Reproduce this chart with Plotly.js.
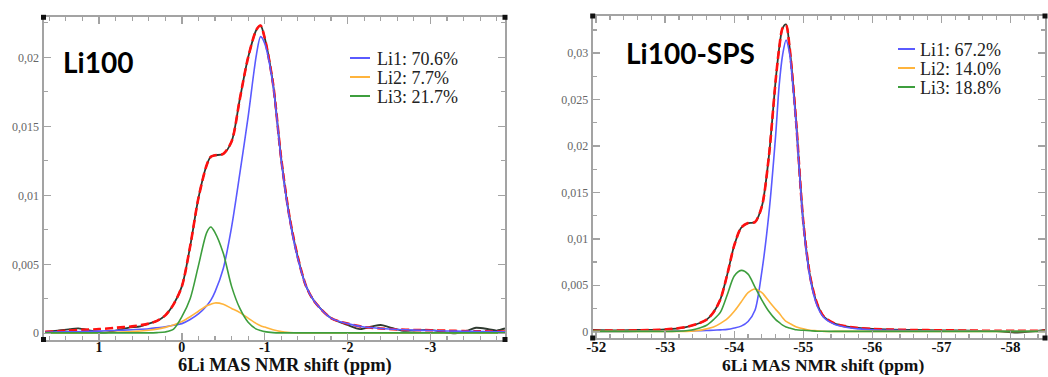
<!DOCTYPE html>
<html>
<head>
<meta charset="utf-8">
<script src="https://cdn.plot.ly/plotly-3.0.1.min.js"></script>
<style>html,body{margin:0;padding:0;background:#fff;}#chart{width:1048px;height:377px;}</style>
</head>
<body>
<div id="chart"></div>
<script>
// ---------------- Li100 (left panel) ----------------
const li100_x = [1.65, 1.4, 1.2, 1.0, 0.8, 0.6, 0.4, 0.3, 0.2, 0.1, 0.0, -0.1, -0.2, -0.3, -0.35, -0.4, -0.5, -0.6, -0.7, -0.8, -0.9, -0.95, -1.0, -1.1, -1.2, -1.3, -1.4, -1.5, -1.6, -1.8, -2.0, -2.2, -2.4, -2.6, -2.8, -3.0, -3.2, -3.4, -3.6, -3.9];
const li100_fit = [0.0001, 0.00018, 0.00025, 0.0003, 0.0004, 0.0005, 0.0007, 0.0009, 0.0013, 0.0021, 0.0034, 0.0063, 0.0098, 0.0122, 0.0128, 0.0129, 0.0130, 0.0139, 0.0170, 0.0200, 0.0220, 0.0223, 0.0214, 0.0181, 0.0126, 0.0084, 0.0055, 0.0034, 0.0023, 0.0011, 0.0007, 0.00045, 0.00035, 0.00028, 0.00024, 0.00022, 0.00019, 0.00016, 0.00014, 0.00012];
const li100_li1 = [0.00008, 0.0001, 0.00013, 0.00016, 0.0002, 0.00026, 0.00033, 0.0004, 0.00048, 0.00058, 0.0007, 0.0010, 0.0014, 0.0020, 0.0024, 0.0030, 0.0047, 0.0077, 0.0116, 0.0157, 0.0202, 0.0215, 0.0210, 0.0180, 0.0125, 0.0083, 0.0054, 0.0034, 0.0023, 0.0011, 0.0007, 0.00045, 0.00035, 0.00028, 0.00023, 0.0002, 0.00017, 0.00015, 0.00013, 0.00011];
const li100_li2 = [0.00002, 0.00003, 0.00003, 0.00004, 0.00007, 0.00012, 0.00022, 0.0003, 0.00043, 0.0006, 0.00085, 0.0012, 0.0016, 0.0020, 0.0021, 0.0022, 0.0021, 0.0018, 0.0015, 0.0011, 0.0007, 0.00055, 0.00045, 0.00025, 0.00012, 0.00006, 0.00003, 0.00003, 0.00003, 0.00003, 0.00003, 0.00003, 0.00003, 0.00003, 0.00003, 0.00003, 0.00003, 0.00003, 0.00003, 0.00003];
const li100_li3 = [0.00003, 0.00003, 0.00003, 0.00003, 0.00003, 0.00003, 0.00003, 0.00005, 0.0001, 0.0003, 0.0012, 0.0025, 0.0049, 0.0073, 0.0077, 0.0073, 0.0058, 0.0034, 0.0018, 0.0008, 0.0003, 0.0002, 0.00012, 0.00005, 0.00003, 0.00003, 0.00003, 0.00003, 0.00003, 0.00003, 0.00003, 0.00003, 0.00003, 0.00003, 0.00003, 0.00003, 0.00003, 0.00003, 0.00003, 0.00003];
const li100_exp_x = [1.65, 1.5, 1.35, 1.25, 1.1, 0.95, 0.8, 0.65, 0.5, 0.4, 0.3, 0.2, 0.1, 0.0, -0.1, -0.2, -0.3, -0.35, -0.4, -0.5, -0.6, -0.7, -0.8, -0.9, -0.95, -1.0, -1.1, -1.2, -1.3, -1.4, -1.5, -1.6, -1.8, -2.0, -2.15, -2.3, -2.4, -2.5, -2.65, -2.8, -3.0, -3.15, -3.3, -3.45, -3.55, -3.7, -3.8, -3.9];
const li100_exp = [0.0001, 0.0002, 0.0003, 0.00035, 0.0002, 0.00005, 0.0002, 0.0004, 0.0005, 0.0007, 0.0009, 0.0013, 0.0021, 0.0034, 0.0063, 0.0098, 0.0122, 0.0128, 0.0129, 0.0130, 0.0139, 0.0170, 0.0200, 0.0220, 0.0223, 0.0214, 0.0181, 0.0126, 0.0084, 0.0055, 0.0034, 0.0023, 0.0011, 0.0006, 0.0003, 0.0005, 0.0006, 0.00045, 0.0002, 0.0002, 0.00025, 0.0001, 0.0000, 0.0002, 0.0004, 0.0003, 0.0002, 0.00035];
const li100_labels = ["Li1: 70.6%", "Li2: 7.7%", "Li3: 21.7%"];

// ---------------- Li100-SPS (right panel) ----------------
const sps_x = [-51.95, -52.3, -52.6, -52.9, -53.1, -53.3, -53.45, -53.6, -53.7, -53.8, -53.9, -54.0, -54.1, -54.2, -54.3, -54.4, -54.5, -54.6, -54.65, -54.7, -54.75, -54.8, -54.85, -54.9, -55.0, -55.1, -55.2, -55.3, -55.45, -55.6, -55.8, -56.0, -56.3, -56.6, -57.0, -57.4, -57.8, -58.1, -58.5];
const sps_fit = [0.0001, 0.00012, 0.00015, 0.0002, 0.0003, 0.0005, 0.0008, 0.0013, 0.0021, 0.0035, 0.0062, 0.0093, 0.0112, 0.0117, 0.0118, 0.0135, 0.0188, 0.0271, 0.0305, 0.0327, 0.0330, 0.0307, 0.0268, 0.0222, 0.0118, 0.0059, 0.0030, 0.0016, 0.0009, 0.0006, 0.0004, 0.0003, 0.00022, 0.00018, 0.00015, 0.00012, 0.0001, 0.0001, 0.0001];
const sps_li1 = [0.00002, 0.00003, 0.00004, 0.00005, 0.00006, 0.00008, 0.0001, 0.00013, 0.00016, 0.0002, 0.00025, 0.0004, 0.0006, 0.0011, 0.0023, 0.0065, 0.0126, 0.0212, 0.0265, 0.0298, 0.0314, 0.0300, 0.0264, 0.0220, 0.0116, 0.0057, 0.0028, 0.0015, 0.0008, 0.0005, 0.0003, 0.0002, 0.00015, 0.0001, 0.00008, 0.00006, 0.00005, 0.00004, 0.00003];
const sps_li2 = [0.00003, 0.00003, 0.00003, 0.00003, 0.00003, 0.00003, 0.0001, 0.0003, 0.0005, 0.0009, 0.0014, 0.0022, 0.0032, 0.0042, 0.0046, 0.0042, 0.0033, 0.0024, 0.0020, 0.0015, 0.0011, 0.0009, 0.0007, 0.0005, 0.0003, 0.00015, 0.0001, 0.00003, 0.00003, 0.00003, 0.00003, 0.00003, 0.00003, 0.00003, 0.00003, 0.00003, 0.00003, 0.00003, 0.00003];
const sps_li3 = [0.00003, 0.00003, 0.00003, 0.00003, 0.00003, 0.0001, 0.0003, 0.0007, 0.0013, 0.0021, 0.0040, 0.0060, 0.0066, 0.0062, 0.0048, 0.0034, 0.0022, 0.0013, 0.0010, 0.0007, 0.0005, 0.0004, 0.0003, 0.0002, 0.00015, 0.0001, 0.00005, 0.00004, 0.00003, 0.00003, 0.00003, 0.00003, 0.00003, 0.00003, 0.00003, 0.00003, 0.00003, 0.00003, 0.00003];
const sps_exp = [0.0002, 0.00015, 0.0002, 0.0002, 0.0003, 0.0005, 0.0008, 0.0013, 0.0021, 0.0035, 0.0062, 0.0093, 0.0112, 0.0117, 0.0118, 0.0135, 0.0188, 0.0271, 0.0305, 0.0327, 0.0331, 0.0307, 0.0268, 0.0222, 0.0118, 0.0059, 0.0030, 0.0016, 0.0009, 0.0006, 0.0004, 0.0003, 0.00022, 0.00018, 0.00015, 0.0001, 0.00005, -0.0001, 0.0002];
const sps_labels = ["Li1: 67.2%", "Li2: 14.0%", "Li3: 18.8%"];

// ---------------- ticks ----------------
const li100_xtickvals = [1, 0, -1, -2, -3];
const li100_xticktext = ["1", "0", "-1", "-2", "-3"];
const li100_ytickvals = [0, 0.005, 0.01, 0.015, 0.02];
const li100_yticktext = ["0", "0,005", "0,01", "0,015", "0,02"];
const sps_xtickvals = [-52, -53, -54, -55, -56, -57, -58];
const sps_xticktext = ["-52", "-53", "-54", "-55", "-56", "-57", "-58"];
const sps_ytickvals = [0, 0.005, 0.01, 0.015, 0.02, 0.025, 0.03];
const sps_yticktext = ["0", "0,005", "0,01", "0,015", "0,02", "0,025", "0,03"];
const axisTitle = "6Li MAS NMR shift (ppm)";
const panelTitles = ["Li100", "Li100-SPS"];

const compColors = ["#5a5aff", "#ffb43c", "#3d9e3d"];
const expColor = "#2f3a30";
const fitColor = "#ff1010";

function panelTraces(xa, ya, x, expX, exp, fit, comps) {
  const t = [];
  t.push({x: expX, y: exp, xaxis: xa, yaxis: ya, type: "scatter", mode: "lines",
          line: {color: expColor, width: 1.8, shape: "spline", smoothing: 0.8}, showlegend: false, hoverinfo: "skip"});
  t.push({x: x, y: fit, xaxis: xa, yaxis: ya, type: "scatter", mode: "lines",
          line: {color: fitColor, width: 2.6, dash: "8px,4px", shape: "spline", smoothing: 0.8}, showlegend: false, hoverinfo: "skip"});
  comps.forEach((c, i) => {
    t.push({x: x, y: c, xaxis: xa, yaxis: ya, type: "scatter", mode: "lines",
            line: {color: compColors[i], width: 1.6, shape: "spline", smoothing: 0.8}, showlegend: false, hoverinfo: "skip"});
  });
  return t;
}

const data = [].concat(
  panelTraces("x", "y", li100_x, li100_exp_x, li100_exp, li100_fit, [li100_li1, li100_li2, li100_li3]),
  panelTraces("x2", "y2", sps_x, sps_x, sps_exp, sps_fit, [sps_li1, sps_li2, sps_li3])
);

const W = 1048, H = 377;
const px = v => v / W, py = v => 1 - v / H;
const bold = arr => arr.map(s => "<b>" + s + "</b>");

const axisLine = "#a3a3a3";
function xAxis(domain, range, tv, tt, fsize, anchor) {
  return {
    domain: domain, range: range, anchor: anchor, tickmode: "array", tickvals: tv, ticktext: bold(tt),
    ticks: "inside", ticklen: 7, tickwidth: 1.5, tickcolor: axisLine,
    minor: {tick0: 0, dtick: 0.2, ticks: "inside", ticklen: 4, tickwidth: 1.2, tickcolor: axisLine},
    showline: true, linecolor: axisLine, linewidth: 2, mirror: "ticks",
    showgrid: false, zeroline: false, ticklabelstandoff: -6,
    tickfont: {family: "Liberation Serif", size: fsize, color: "#111"},
    fixedrange: true
  };
}
function yAxis(domain, range, tv, tt, anchor) {
  return {
    domain: domain, range: range, anchor: anchor, tickmode: "array", tickvals: tv, ticktext: tt,
    ticks: "inside", ticklen: 7, tickwidth: 1.5, tickcolor: axisLine,
    minor: {tick0: 0, dtick: 0.0025, ticks: "inside", ticklen: 4, tickwidth: 1.2, tickcolor: axisLine},
    showline: true, linecolor: axisLine, linewidth: 2, mirror: "ticks",
    showgrid: false, zeroline: false,
    tickfont: {family: "Liberation Serif", size: 12, color: "#666"},
    fixedrange: true
  };
}

const shapes = [];
const annotations = [];

// corner markers
function corners(xr, yr, list) {
  list.forEach(([cx, cy]) => {
    shapes.push({type: "rect", xref: xr + " domain", yref: yr + " domain",
      xsizemode: "pixel", ysizemode: "pixel", xanchor: cx, yanchor: cy,
      x0: -2.5, x1: 2.5, y0: -2.5, y1: 2.5, fillcolor: "#111", line: {width: 0}});
  });
}
corners("x", "y", [[0, 0], [0, 1], [1, 0], [1, 1]]);
corners("x2", "y2", [[0, 0], [0, 1], [1, 0], [1, 1]]);

// axis titles
annotations.push({xref: "paper", yref: "paper", x: px(285), y: py(365), text: "<b>" + axisTitle + "</b>", showarrow: false,
  xanchor: "center", yanchor: "middle", font: {family: "Liberation Serif", size: 18.5, color: "#111"}});
annotations.push({xref: "paper", yref: "paper", x: px(823), y: py(365), text: "<b>" + axisTitle + "</b>", showarrow: false,
  xanchor: "center", yanchor: "middle", font: {family: "Liberation Serif", size: 17.5, color: "#111"}});

// panel titles
annotations.push({xref: "paper", yref: "paper", x: px(98), y: py(62), text: "<b>" + panelTitles[0] + "</b>", showarrow: false,
  xanchor: "center", yanchor: "middle", font: {family: "Lato", size: 28, color: "#000"}});
annotations.push({xref: "paper", yref: "paper", x: px(690), y: py(53), text: "<b>" + panelTitles[1] + "</b>", showarrow: false,
  xanchor: "center", yanchor: "middle", font: {family: "Lato", size: 28, color: "#000"}});

// legends
function legend(labels, sx0, sx1, tx, rows) {
  labels.forEach((lab, i) => {
    shapes.push({type: "line", xref: "paper", yref: "paper", x0: px(sx0), x1: px(sx1), y0: py(rows[i] - 1), y1: py(rows[i] - 1),
      line: {color: compColors[i], width: 2}});
    annotations.push({xref: "paper", yref: "paper", x: px(tx), y: py(rows[i]), text: lab, showarrow: false,
      xanchor: "left", yanchor: "middle", font: {family: "Liberation Serif", size: 18, color: "#222"}});
  });
}
legend(li100_labels, 350, 370, 375, [59, 78, 97]);
legend(sps_labels, 898, 915, 918, [50, 69, 88]);

const layout = {
  width: W, height: H, margin: {l: 0, r: 0, t: 0, b: 0},
  paper_bgcolor: "#fff", plot_bgcolor: "#fff", showlegend: false,
  xaxis: xAxis([px(43.5), px(505)], [1.67, -3.9], li100_xtickvals, li100_xticktext, 14, "y"),
  yaxis: yAxis([1 - 339.5 / H, 1 - 17.3 / H], [-0.00045, 0.0229], li100_ytickvals, li100_yticktext, "x"),
  xaxis2: xAxis([px(592.7), px(1045)], [-51.95, -58.5], sps_xtickvals, sps_xticktext, 15, "y2"),
  yaxis2: yAxis([1 - 338 / H, 1 - 16 / H], [-0.00068, 0.034], sps_ytickvals, sps_yticktext, "x2"),
  shapes: shapes, annotations: annotations
};

Plotly.newPlot("chart", data, layout, {displayModeBar: false, staticPlot: true});
</script>
</body>
</html>
